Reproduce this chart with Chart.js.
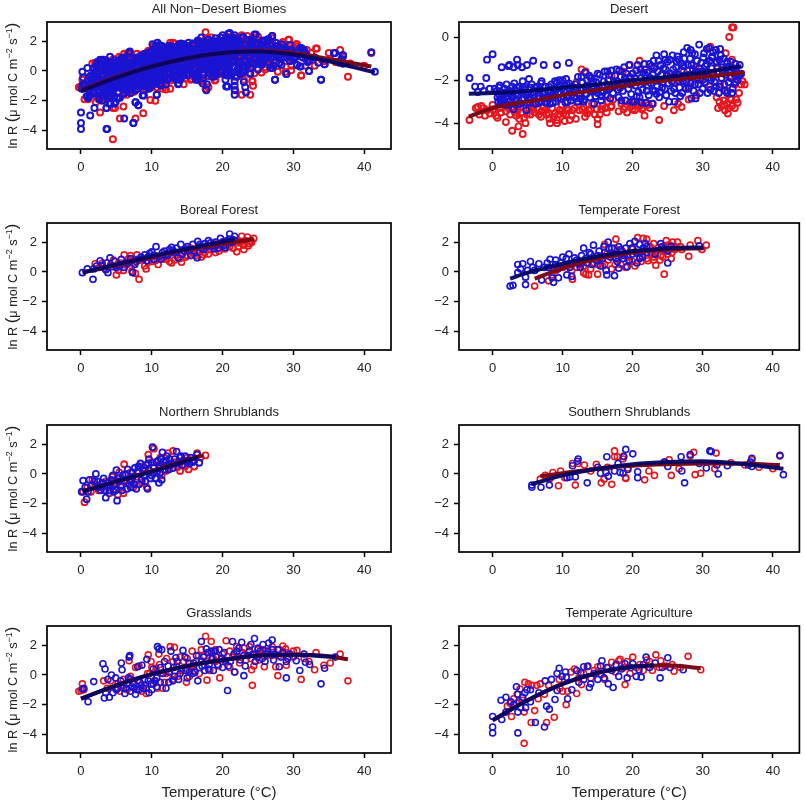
<!DOCTYPE html>
<html>
<head>
<meta charset="utf-8">
<script src="https://cdn.jsdelivr.net/npm/chart.js@4"></script>
<style>
  html, body { margin: 0; padding: 0; background: #fff; overflow: hidden; }
  canvas { position: absolute; }
</style>
</head>
<body>
<script>
const xTickValues = [0, 10, 20, 30, 40];
const yTickValues = [-4, -2, 0, 2];
const desertTickValues = [-4, -2, 0];

// puntos: [temperatura, ln R]
const borealRed = [[2,.55],[2.6,.3],[3,.6],[3.5,.2],[4.2,.5],[4.6,.8],[5,-.2],[5.3,.1],[5.6,.6],[6,.1],[6.1,1.15],[6.5,.5],[6.7,.85],[7,1.1],[7.2,.05],[7.5,.6],[7.7,-.1],[7.9,1.15],[8.2,-.5],[8.4,.8],[9,.4],[9.2,.2],[9.5,1],[10,.7],[10.5,1.1],[10.9,.5],[11.5,.9],[12,1.2],[12.5,.7],[12.8,.6],[13,1.3],[13.5,1.1],[14,.9],[14.2,.65],[14.6,1.4],[15,1.1],[15.5,1.6],[16,1.2],[16.5,1.45],[17,1],[17.5,1.3],[17.8,1.7],[18.2,1.5],[18.7,1.9],[19,1.3],[19.3,1.6],[19.8,1.8],[20.3,1.55],[20.8,2],[21,1.7],[21.5,1.6],[22,1.35],[22.4,1.95],[22.7,2.4],[23,1.5],[23.2,2.1],[23.5,2.35],[23.8,1.9],[24,2.1],[24.4,2.25],
  [13.2,.8],[14.8,1],[15.8,1.45],[16.3,1.1],[16.8,1.7],[17.3,1.15],[18,1.2],[18.4,1.7],[19.5,1.4],[20,2],[20.5,1.8],[21.2,1.95],[21.7,2.1],[22.2,1.7],[22.6,2.05],[23,1.8],[23.6,1.75],[24.1,2],[12,.85],[10.5,.75],[11,.95],[9.5,.65]];
const borealBlue = [[.2,-.05],[.9,.2],[1.7,-.5],[1.8,.2],[2.2,.4],[2.7,.75],[3,.45],[3.5,.15],[3.6,.6],[3.8,-.05],[4.1,.95],[4.4,.35],[4.8,.7],[5.4,.4],[5.7,.85],[6.1,.3],[6.6,.6],[7,.9],[7.3,-.05],[7.6,.5],[8,.85],[8.5,1],[9,1.15],[9.3,.75],[9.7,1.25],[10,1.35],[10.3,.85],[10.6,1.7],[11,1.05],[11.5,1.3],[12,1.1],[12.5,1.5],[12.8,1.65],[13.3,1.3],[13.7,.95],[14.1,1.85],[14.5,1.4],[15,1.7],[15.5,1.1],[15.8,1.85],[16.4,.95],[16.5,2.05],[17,1.6],[17.5,1.9],[18,2.1],[18.5,1.75],[19,2],[19.4,1.6],[19.7,2.25],[20.2,1.8],[20.6,2.1],[21,2.55],[21.3,2],[21.7,2.4],
  [5,.3],[6.3,.6],[7.8,.7],[8.8,.9],[9.5,1],[10.2,1.1],[11.3,.85],[11.8,1.4],[12.3,1.15],[13,1.45],[13.5,1.6],[14.3,1.2],[14.8,1.55],[15.3,1.5],[16,1.4],[16.8,1.85],[17.3,1.5],[17.8,1.75],[18.3,1.95],[18.8,1.55],[19.2,1.85],[20,2],[20.4,1.65],[21,2.2],[21.5,2.15]];
const forestRed = [[6,-.95],[8,-.6],[8.5,-.2],[9,.1],[10,.3],[11.4,-.5],[11.3,.1],[12,.3],[12.5,.5],[13,-.05],[13.3,-.15],[13.7,-.2],[14,.2],[14.5,.6],[15,-.15],[15.3,.9],[15.7,.4],[16,1.85],[16.5,.8],[17,1.2],[17.5,.5],[17.6,2.2],[18,.9],[18.5,1.4],[19,.3],[19.3,1],[19.8,1.6],[20.3,.4],[20.7,2.3],[21,1],[21.2,.7],[21.5,2.25],[22,2.2],[22.2,.75],[22.5,1.7],[22.8,1.2],[23,1.9],[23.3,.45],[23.5,1.4],[23.9,.8],[24.2,1.65],[24.5,-.15],[24.8,2.1],[25,1.2],[25.3,1.8],[25.5,.9],[25.7,2],[26,1.5],[26.4,2],[27,1.5],[28,1.05],[28.2,1.8],[29.3,2.1],[29.9,1.5],[30.5,1.8],[17,.2],[20,.7],[23,1],[24,1.1],[25,1.45],
  [13,.4],[15,.5],[16,.5],[16.3,1.2],[17.4,1.6],[18.3,.5],[18.8,1.2],[19.5,.7],[21.5,1.4],[22,.9],[22.6,1.3],[23,.8],[24.3,1],[24.6,1.4],[25,1.8],[25.6,1.3],[26,1.7],[26.8,1.7]];
const forestBlue = [[2.5,-.95],[2.9,-.9],[3.6,.5],[3.6,-.05],[4,.2],[4.3,.55],[4.7,-.35],[4.7,-.85],[5,.1],[5.4,.7],[5.7,.3],[6,.1],[6.6,.55],[7,-.55],[7.4,.3],[7.8,.6],[8.2,.85],[8.5,-.4],[8.7,-.7],[9,.8],[9.3,.2],[9.4,-.4],[10,1],[10.3,.5],[10.6,-.2],[10.9,1.2],[11.3,-.3],[11.5,.6],[12,.8],[12.5,.3],[13,1.6],[13.3,.9],[13.8,1.3],[14.2,.5],[14.4,1.8],[15,1.1],[15.4,.4],[15.9,1.7],[16.2,.1],[16.3,-.2],[16.5,2],[16.8,1],[17,1.6],[17.4,-.25],[17.8,.7],[18,.25],[18.3,1.5],[18.8,1.1],[19.2,.35],[19.6,1.9],[20,1.2],[20.3,2.05],[20.6,.6],[21,.9],[21.5,1.6],[21.8,1.9],[22,1.3],[23.2,1.2],[24,1.9],[24.5,1.55],[25,.6],[25.5,1.7],[29.5,1.75],
  [8,.3],[9,.5],[9.8,.6],[10.5,.9],[11,.3],[11.7,.95],[12.3,.55],[12.7,1.1],[13.5,.6],[14,1.2],[14.8,.8],[15.2,1.4],[15.7,.9],[16,1.3],[16.6,1.6],[17.3,1.2],[17.6,.9],[18,1.7],[18.6,.9],[19,1.6],[19.5,.8],[20,1.6],[20.5,1.3],[21,1.85],[21.4,1],[22,1.7],[24.2,1.7],[25,1.4]];
const northRed = [[.3,-1.2],[.5,-1.9],[.9,-.9],[1.4,-1.2],[1.6,-.4],[2,-.7],[2.5,-1.1],[3,-.9],[3.5,-.5],[4,-1.3],[4.4,-.2],[4.8,-1],[5,-.6],[5.2,-1.4],[5.4,.1],[5.7,-.9],[6,-1.3],[6.1,.65],[6.4,-.4],[6.8,-.7],[7,.1],[7.4,-.9],[7.8,-.2],[8.3,.5],[8.6,-.6],[9,.4],[9.3,-.9],[9.5,1.3],[9.7,.2],[10,.8],[10.3,1.7],[10.6,-.3],[11,.6],[11.2,1.1],[11.4,-.1],[11.8,.9],[12,.2],[12.3,1.4],[12.7,.6],[13,1.55],[13.3,.8],[13.6,.45],[14,.2],[14.4,.9],[14.7,.5],[15,1.1],[15.2,.3],[15.7,.8],[16,.5],[16.4,1.4],[16.9,1.1],[17.6,1.25]];
const northBlue = [[.1,-1.2],[.3,-.45],[.8,-1.7],[1.2,-.4],[1.5,-.8],[2.1,0],[2.3,-.5],[2.8,-1.1],[3.2,-.3],[3.5,-1.6],[3.7,-.8],[4,-1.1],[4.3,-.4],[4.7,-.7],[5,.25],[5.1,-1.8],[5.4,-.3],[5.7,-.8],[6.2,-.5],[6.6,.3],[7,-.9],[7.3,-.2],[7.6,.4],[7.8,-1],[8,.1],[8.4,.7],[8.6,-.4],[9,.2],[9.4,-1],[9.6,1],[9.8,-.3],[10.1,1.8],[10.3,.4],[10.6,.8],[11,-.6],[11.3,1],[11.4,-.4],[11.5,1.45],[11.8,.3],[12.2,.6],[12.5,1],[13,.4],[13.5,1.5],[13.9,.8],[14.3,.6],[14.7,1.2],[15,.8],[15.5,1.1],[16,.9],[16.4,1.3],[16.7,.75],[2.6,-.8],[3.9,-.6],[4.6,-1.2],[5.9,-.1],[6.5,-1],[7.1,-.5],[8.2,-.7],[8.9,-.1],[9.2,.6],[10,-.1],[10.7,.1],[11.1,.4],[12,.9],[12.8,.7],[14,1.1],
  [.6,-.9],[1,-1.2],[1.9,-.5],[2.4,-.9],[3,-.6],[3.4,-1.1],[4.1,-.8],[4.5,-.1],[4.9,-1.1],[5.3,-.5],[5.8,-1.1],[6.3,0],[6.9,-.4],[7.3,.1],[7.5,-.7],[8.1,.5],[8.7,.3],[9.1,-.5],[9.5,.7],[10.2,.1],[10.5,-.3],[10.9,.9],[11.2,.1],[11.7,.8],[12.1,1.2],[12.4,.3],[13.2,1],[13.7,.7],[14.1,1.2],[14.9,.9],[15.3,.7],[15.8,.8]];
const southRed = [[6.8,-.35],[7.5,-.1],[8.2,-.3],[8.6,.1],[9.4,-.8],[9.7,.2],[10.3,-.25],[11.4,.7],[11.8,-.75],[12.2,.7],[13.1,.6],[14,.2],[14.8,.65],[15.5,-.6],[15.9,-.35],[16.4,.45],[17,-.7],[17.4,1.55],[17.4,1.15],[17.8,1.15],[18.6,1],[18.7,1.2],[19,-.25],[19,-.3],[19.3,.4],[21.7,-.4],[22.3,.2],[23.1,-.1],[24.6,.8],[25.2,.95],[25.5,-.1],[26.6,.35],[28.2,1.2],[28.7,1.45],[28.9,-.05],[29.7,.05],[31.7,.35],[31.9,1.4],[34,.75],[36,.6],[37,.95],[38,.45],[40,.35],[41,1.2]];
const southBlue = [[5.6,-.75],[5.6,-.9],[6.9,-.9],[8.1,-.75],[10.6,-.25],[11,-.2],[11.4,.55],[11.8,-.2],[12.1,.85],[12.2,1],[13.5,-.6],[15,.45],[15.4,.05],[16.2,.1],[16.3,1.15],[16.5,-.15],[17.4,.2],[17.9,.7],[18.2,.1],[18.6,.05],[18.7,1.15],[19,1.65],[19.3,.3],[20,1.35],[20.7,.15],[20.7,-.25],[24.5,.8],[25,.5],[26.9,1.15],[27,.2],[27.4,-.6],[28.2,1.3],[29.5,.7],[30.5,.4],[31,1.55],[31.2,1.5],[32,.6],[32.2,0],[33.5,.55],[36.5,.6],[36.8,.8],[37,.5],[37,1.05],[41,1.25],[41.5,-.05]];
const grassRed = [[-.3,-1.1],[0,-1.05],[.2,-.6],[.4,-1],[3.2,-.4],[3.7,-.9],[4.2,-.4],[4.9,-.9],[5.2,-.6],[5.5,-1.1],[6,-.7],[6.5,-1],[6.8,.95],[7.3,-.5],[7.7,.5],[7.9,-.8],[8.2,.6],[8.6,-1.1],[9,-.7],[9.2,-1.25],[9.4,.1],[9.5,1.35],[9.9,.9],[10,.5],[10.3,-.4],[10.6,.45],[10.8,-.9],[11,1.4],[11.4,.1],[11.5,-.9],[11.8,-.5],[12.1,1.1],[12.4,.2],[12.6,1.9],[12.9,-.3],[13.2,1.85],[13.5,.6],[13.7,-.1],[14,1.2],[14.5,.9],[14.9,-.5],[15,.4],[15.3,-.1],[15.7,1.6],[16,.3],[16.3,.9],[16.7,.1],[17,1.7],[17.6,2.6],[17.7,.9],[17.8,-.35],[18.2,.3],[18.4,2.25],[18.7,1.1],[19,1.7],[19.4,.6],[19.6,-.2],[20,1.4],[20.4,.9],[20.5,2.3],[21,.5],[21.4,1.2],[21.7,.2],[22,1.9],[22.4,.8],[22.8,1.5],[23.3,1],[23.8,1.9],[24.1,.35],[24.2,-.7],[24.4,.6],[24.8,1.4],[25.2,1],[25.7,1.7],[25.9,.55],[26.3,1.3],[27,1.9],[27.5,.55],[27.8,-.05],[28,1.3],[28.5,1.95],[28.9,1.75],[29,.65],[29.4,1.2],[30,1.6],[30.5,1.65],[31.1,-.3],[31.5,1.1],[32.2,.9],[33,.35],[33.2,1.5],[34.3,.65],[35.2,.8],[36.6,1.4],[37.7,-.4],
  [6,-.3],[7,-.1],[8,-.4],[9.7,.1],[11.1,.7],[12,.1],[13,.9],[14.2,.3],[15,1.1],[15.9,.6],[16.6,1.3],[17.4,1.3],[18.4,1.5],[19,.9],[19.8,1.1],[21,1.6],[22,1.2],[23,1.8],[24,1.1],[25,1.7],[26,1.6],[27,1.3],[28,1.7],[29,1.5],[30,1.2]];
const grassBlue = [[.2,-.95],[.4,-.9],[1,-1.8],[1.8,-.45],[3.1,.75],[3.3,-1.55],[3.4,.4],[3.5,-1.2],[3.8,-.3],[4,-1.5],[4.3,0],[4.5,-1.2],[4.9,-.2],[5.2,-.9],[5.7,.8],[5.8,.35],[6.2,-1.25],[6.7,-.2],[6.9,1.3],[6.8,1.2],[7.2,-.8],[7.4,-.6],[7.7,-1.3],[8,.55],[8.2,-1],[8.6,.65],[9,-.3],[9.3,1.05],[9.6,-1.2],[10,-1],[10.2,.4],[10.5,-.4],[10.8,1.9],[11,1.75],[11.4,1.7],[11.6,.1],[12,-.9],[12.3,.6],[12.7,1.6],[13,-.4],[13.4,1.15],[13.8,-.3],[14.4,1.65],[14.8,.3],[15.3,.8],[15.8,.1],[16.5,-.4],[16.7,.5],[17,2.25],[17.3,1.2],[17.7,1.75],[18.1,.7],[18.4,1.6],[18.7,.3],[19.1,1.2],[19.5,1.7],[20,.5],[20.3,1],[20.7,-1.05],[21.1,.9],[21.4,2.25],[21.7,.2],[22,1.6],[22.5,1],[22.7,2.2],[23,-.05],[23.2,.6],[23.6,1.3],[24,2.05],[24.5,2.45],[24.9,1.2],[25.3,1.6],[25.7,2.05],[26,.9],[26.5,2.15],[27,2.35],[27.3,1.4],[27.8,1.7],[28,.55],[28.5,1.5],[29,.9],[29,-.2],[29.5,1.4],[30.4,.95],[30.9,.3],[31.5,1.4],[31.7,.85],[32.3,.7],[33.9,-.6],[34.4,.45],[35.9,1.2],[6.4,-.9],[7,-1.1],[7.9,-1],[8.5,-.7],[9.2,-.9],[9.9,-.6],[10.7,-.8],[11.2,-.5],[12.4,-.5],[13.2,-.1],[14,.1],[15,-.2],[16.1,.2],[17.1,.6],[17.9,1.5],[18.9,1.6],[19.9,1.1],[24.3,1.4],[26.4,1.6],[27,1.7],
  [5,-1],[5.6,-.4],[6,-.9],[6.5,-.6],[7,-.3],[7.5,-.9],[8.3,-.5],[8.8,-.9],[9.5,-.4],[10.2,-.6],[10.7,-.2],[11.2,.5],[11.8,.9],[12.5,.2],[13.1,.5],[13.6,.9],[14.2,.4],[14.7,1.2],[15.3,.2],[15.9,.8],[16.3,1.3],[17,.9],[17.5,.3],[18,.4],[18.5,1.1],[19.3,.7],[20.2,1.5],[20.8,.6],[21.6,1.4],[22.3,1.8],[23,1.3],[23.8,1.6],[24.6,.9],[25,1.8],[25.6,1.1],[26.2,1.4],[27.2,1],[28.2,1.2],[29.2,1.1]];
const agriRed = [[2.7,-2.8],[2.1,-2.1],[2.5,-1.9],[3,-1.6],[3.4,-1.9],[3.5,-1.3],[3.9,-.95],[4.3,-1.7],[4.5,-2.5],[4.5,-4.6],[4.6,-.5],[5.1,-.6],[5.5,-3.2],[5.6,-.7],[6,-2.4],[6.3,-.7],[6.5,-1.6],[6.8,-.6],[7.4,-1.3],[7.7,-3.2],[8,-.7],[8.8,-2.85],[9.5,-.3],[9.6,-.9],[10,-1.1],[10.5,-2],[10.7,-1.1],[11.2,.2],[11.7,.4],[12,-1.25],[12.3,-.2],[12.7,-.65],[13,.1],[13.5,.55],[14,-.2],[14.5,.3],[15,.55],[15.5,.05],[16,-.3],[16.5,.5],[17,.85],[17.5,.2],[18,.95],[18.2,1.05],[18.7,.5],[18.9,-.65],[19.2,.9],[19.6,.1],[20,1.2],[20.5,.5],[21,.7],[21.5,.3],[22,1],[22.4,.9],[22.8,.3],[23.3,1.35],[23.8,.5],[24,.95],[24.7,.6],[25.6,.7],[25.9,.25],[26.8,.5],[27.9,1.25],[29.7,.35]];
const agriBlue = [[0,-2.8],[0,-3.5],[0,-3.9],[1.2,-1.7],[1.3,-3],[1.9,-1.5],[1.9,-2.5],[2.6,-1.8],[3,-2],[3.4,-.8],[3.6,-1.3],[3.6,-2.5],[3.6,-3.9],[3.8,-1.8],[4,-2.2],[4.3,-1.5],[4.6,-1.2],[4.7,-2.2],[4.9,-1],[5.4,-1.8],[5.4,-1],[6.1,-3.2],[6.6,-1.2],[7.4,-3.5],[7.5,-.4],[7.7,-2.1],[8.1,-2.3],[8.4,-.3],[8.9,-1.65],[9.2,-1.05],[9.2,.1],[9.5,.45],[9.9,-.1],[10.4,.2],[10.5,-.15],[10.7,-1.6],[11.3,-1],[12,.3],[12.3,-.5],[12.6,.15],[13,.55],[13,-.3],[13.6,.6],[13.8,-.85],[14,-.6],[14.5,.1],[15,-.3],[15.4,.6],[15.6,.95],[15.9,-.2],[16.3,.5],[16.5,-.6],[17,.3],[17.2,-.85],[17.6,.7],[18,-.1],[18.4,.4],[18.9,.75],[19.2,-.2],[19.7,.5],[20,.75],[20.5,-.1],[20.9,.35],[21.2,-.15],[21.5,.7],[21.9,1.2],[22.4,.5],[23.2,.8],[23.9,-.2],[24.2,.5],[25,1.15],[25.3,.5],[27.2,.35]];
const desertRed = [[-3.3,-3.85],[-2.4,-3.3],[-2.1,-3.25],[-1.9,-3.6],[-1.6,-3.2],[-1.3,-3.3],[-1.1,-3.65],[-.8,-3.4],[-.4,-3.55],[0,-3.15],[.3,-3.5],[.7,-3.75],[1,-3.3],[1.4,-3.1],[1.9,-3.95],[1.9,-3.45],[2.2,-3.3],[2.5,-3.6],[2.8,-4.35],[3,-3.1],[3.2,-3.5],[3.6,-3.4],[3.7,-4.15],[3.8,-3.8],[4.2,-3.5],[4.3,-4.5],[4.7,-4],[4.9,-3.6],[5.2,-3.3],[5.6,-3.25],[6,-3.5],[6.3,-3.1],[6.6,-3.6],[7,-3.45],[7.3,-3.25],[7.7,-3.6],[8.1,-3.8],[8.2,-4],[8.5,-3.3],[8.9,-3.55],[9.2,-3.85],[9.2,-4],[9.6,-3.4],[9.9,-3.15],[10.1,-3.55],[10.3,-3.9],[10.6,-3.3],[11,-3.85],[11.3,-3.65],[11.7,-3.3],[11.9,-3.8],[12.2,-3],[12.7,-1.5],[12.8,-3.35],[13.3,-1.6],[13.2,-3.7],[13.7,-3.4],[14.2,-3.1],[14.6,-3.6],[15,-4.05],[15,-3.8],[15.3,-3.6],[15.7,-3.2],[16.1,-3.3],[16.5,-3],[16.9,-3.25],[17.2,-2.9],[18,-3.45],[18.4,-3.1],[18.9,-3.25],[19.2,-3.5],[19.6,-3.05],[20,-3.35],[20.5,-3.15],[20.9,-3],[21.3,-3.35],[21.7,-3.65],[22,-3.05],[22.5,-3.3],[22.9,-3.1],[23.8,-3.85],[25.9,-3.4],[27,-3.25],[28,-2.9],[29.1,-2.7],[32,-2.8],[32.4,-3],[32.7,-3.2],[33,-2.95],[33.2,-3.4],[33.5,-3.1],[33.6,-3.55],[33.9,-2.85],[34.2,-3.2],[34.6,-3.3],[34.8,-2.9],[35,-3.05],[35.2,-2.6],[35.5,-2.2],[36,-2.2],[33.8,0],[34.2,.45],[34.4,.45],[31.1,-.45],[33.3,-.75],[34.2,-1.05],[21,-1.1],[19.6,-1.3],[12,-2.1],[14,-1.9],[17,-1.8],[18.6,-1.6],[19,-2.1],[20,-1.7],[21.7,-1.5],[23,-1.4],[24,-2],[25,-1.8],[26,-2.1],[26.8,-1.95],[27.3,-1.6],[28,-2.3],[28.6,-1.85],[29,-1.4],[29.7,-2],[30.5,-1.6],[31,-2.3],[31.6,-1.8],[32,-1.2],[32.5,-2.2],[33,-1.5],[33.5,-2.5],[34,-1.8],[34.6,-2.2],[35,-1.7],[35.7,-2.05],
  [.1,-3.35],[.5,-3.65],[1.2,-3.5],[2.7,-3.25],[3.4,-3.65],[4,-3.25],[4.5,-3.75],[5.4,-3.6],[5.8,-3.35],[6.4,-3.3],[6.9,-3.7],[7.5,-3.4],[8,-3.55],[8.7,-3.7],[9.4,-3.6],[9.9,-3.45],[10.5,-3.6],[10.8,-3.4],[11.4,-3.4],[12.4,-3.4],[13,-3.25],[13.5,-3.55],[14,-3.35],[14.9,-3.35],[15.5,-3.35],[16.3,-3.5],[17,-3.2],[18.7,-3.35],[19.9,-3.2],[20.3,-3.4],[21,-3.2],[21.5,-3.3],[22.3,-3.15],[24.5,-3.2],[26.5,-3.1],[32.2,-3.3],[33.1,-3.15],[33.7,-3.3],[34.1,-2.9]];
const desertBlue = [[-3.3,-1.9],[-2.5,-2.3],[-2.1,-2.55],[-1.7,-2.3],[-1.3,-2.5],[-.8,-1.05],[-.9,-1.9],[-.4,-2.4],[0,-.8],[.3,-2.4],[.7,-2.8],[1,-2.25],[1.3,-1.4],[1.5,-2.6],[2,-2.2],[2.3,-1.35],[2.4,-1.3],[3,-1.4],[3,-3.35],[3.5,-1.05],[3.6,-1.3],[4.2,-1.4],[4.3,-2.05],[4.8,-3.4],[4.9,-1.3],[5.2,-1.95],[5.8,-1.1],[7,-2.05],[7.3,-1.3],[9.2,-1.3],[10.9,-1.2],
  [.6,-2.5],[.8,-3],[1,-2.7],[1.2,-3.1],[1.5,-2.9],[1.7,-2.4],[1.9,-3.15],[2.1,-2.75],[2.4,-2.5],[2.5,-3],[2.8,-2.3],[2.9,-2.7],[3.2,-2.45],[3.4,-3],[3.6,-2.7],[3.8,-2.3],[4,-3.1],[4.3,-2.6],[4.5,-2.85],[4.7,-2.3],[4.9,-3.05],[5.1,-2.6],[5.4,-2.35],[5.5,-2.9],[5.8,-2.55],[6.1,-3.1],[6.3,-2.3],[6.5,-2.75],[6.8,-2.45],[7,-3],[7.2,-2.6],[7.5,-2.3],[7.7,-2.85],[7.9,-2.5],[8.2,-3.1],[8.4,-2.2],[8.6,-2.7],[8.8,-2.4],[9,-3],[9.2,-2.1],[9.4,-2.6],[9.6,-2.3],[9.8,-2.85],[10,-2],[10.2,-2.5],[10.4,-3.05],[10.6,-2.2],[10.8,-2.7],[11,-2.4],[11.2,-2.95],[11.5,-2.55],[11.8,-2.2],[12,-2.85],[12.2,-1.85],[12.5,-2.45],[12.8,-2.1],[13,-3],[13.2,-1.65],[13.4,-2.65],[13.6,-2.25],[13.9,-2.8],[14.1,-1.9],[14.3,-2.4],[14.5,-3.1],[14.8,-2.1],[15,-2.6],[15.3,-1.75],[15.5,-2.95],[15.7,-2.3],[16,-1.6],[16.2,-2.7],[16.5,-2],[16.7,-2.4],[17,-1.55],[17.3,-2.1],[17.7,-1.5],[18,-2.8],[18.3,-1.85],[18.6,-2.5],[18.8,-1.4],[19,-2.95],[19.2,-2.05],[19.5,-1.3],[19.8,-2.65],[20,-1.7],[20.2,-3],[20.4,-2.25],[20.7,-1.3],[21,-2.8],[21.2,-1.9],[21.4,-2.45],[21.7,-1.25],[21.9,-3.05],[22.1,-1.65],[22.3,-2.7],[22.6,-2.15],[22.8,-3.1],[23,-1.1],[23.2,-2.5],[23.4,-.85],[23.6,-1.6],[23.8,-2.8],[24,-1.3],[24.3,-2.1],[24.5,-.8],[24.8,-2.7],[25,-1.15],[25.2,-3],[25.4,-1.7],[25.7,-.85],[25.9,-2.4],[26,-3],[26.2,-1.4],[26.4,-.9],[26.6,-2.05],[26.9,-1.2],[27.1,-2.6],[27.3,-.7],[27.5,-1.8],[27.8,-.5],[28,-2.4],[28.2,-1],[28.4,-2.85],[28.6,-1.5],[28.9,-.8],[29,-2.85],[29.3,-1.9],[29.5,-.35],[29.8,-1.2],[30,-2.4],[30.2,-.75],[30.5,-1.6],[30.7,-2.6],[30.9,-.5],[31.2,-2],[31.4,-.9],[31.6,-2.5],[31.9,-.6],[32.1,-1.4],[32.3,-2.6],[32.5,-.55],[32.7,-1.9],[33,-1],[33.2,-2.5],[33.4,-1.4],[33.7,-2.1],[34,-1.15],[34.2,-2.6],[34.5,-1.7],[34.7,-1.25],[35,-2],[35.3,-1.3],[35.5,-1.7],
  [.9,-2.35],[1.3,-2.8],[1.6,-3.05],[2,-2.55],[2.3,-3.15],[2.7,-2.8],[3.1,-2.15],[3.3,-2.65],[3.7,-3.1],[4,-2.5],[4.2,-2.9],[4.6,-2.45],[4.8,-2.7],[5.3,-3.05],[5.6,-2.2],[5.9,-2.8],[6.2,-2.5],[6.6,-3.05],[6.9,-2.15],[7.3,-2.8],[7.6,-3.05],[8,-2.3],[8.3,-2.6],[8.6,-3.05],[8.9,-2.05],[9.3,-2.85],[9.5,-2],[9.9,-2.4],[10.1,-2.75],[10.5,-1.95],[10.7,-3],[10.9,-2.15],[11.3,-2.3],[11.6,-2.8],[11.9,-2.45],[12.1,-3],[12.4,-2.65],[12.7,-1.85],[12.9,-2.45],[13.1,-2.9],[13.5,-2],[13.8,-1.8],[14,-2.5],[14.4,-2.05],[14.7,-2.75],[15,-1.7],[15.2,-2.35],[15.6,-2.75],[15.9,-2.05],[16.3,-2.45],[16.4,-1.6],[16.8,-2.85],[17.1,-2.25],[17.5,-1.8],[17.9,-2.45],[18.1,-1.55],[18.4,-2.95],[18.7,-2.15],[19.1,-1.7],[19.4,-2.4],[19.6,-1.85],[19.9,-3],[20.1,-2.1],[20.5,-1.55],[20.8,-2.55],[21.1,-1.5],[21.3,-3.05],[21.6,-2.1],[21.8,-1.75],[22,-2.5],[22.4,-1.25],[22.5,-1.9],[22.9,-2.5],[23.1,-1.45],[23.3,-1.95],[23.5,-2.3],[23.7,-1.1],[23.9,-2.55],[24.1,-1.75],[24.4,-1.45],[24.6,-2.4],[24.9,-1.8],[25.1,-2.15],[25.3,-1.05],[25.5,-2.5],[25.8,-1.5],[26.1,-2.6],[26.3,-1.15],[26.5,-1.75],[26.7,-2.35],[27,-1.55],[27.2,-2.05],[27.4,-1],[27.6,-2.4],[27.9,-1.3],[28.1,-1.75],[28.3,-2.15],[28.5,-.75],[28.7,-2.5],[29,-1.6],[29.2,-1.1],[29.4,-2.2],[29.6,-2.6],[29.9,-1.6],[30.1,-.95],[30.3,-2.1],[30.6,-1.25],[30.8,-1.9],[31.1,-2.45],[31.3,-1.45],[31.5,-.7],[31.7,-2.1],[32,-1.15],[32.2,-1.7],[32.4,-2.3],[32.6,-.85],[32.8,-1.4],[33.1,-2.2],[33.3,-1.75],[33.5,-2.6],[33.8,-1.4],[34,-1.9],[34.3,-2.4],[34.4,-1.45],[34.7,-2.1],[35.2,-1.8],[28.3,-.6],[30.6,-.55],[31.3,-.95],[26.6,-1.05],[24.7,-1.05],[22.7,-1.35],
  [1.1,-2.95],[1.8,-2.65],[2.6,-2.6],[3.5,-2.35],[4.4,-2.35],[5.2,-2.8],[6,-2.35],[6.7,-2.6],[7.4,-2.55],[8.1,-2.75],[8.9,-2.65],[9.7,-2.6],[10.3,-2.25],[11.1,-2.6],[11.7,-2.4],[12.6,-2.85],[13.3,-2.3],[14.2,-2.15],[14.9,-2.45],[15.8,-2.55],[16.6,-1.75],[17.2,-2.6],[17.8,-2.05],[18.2,-2.35],[18.9,-1.9],[19.7,-2.2],[20.3,-1.9],[20.6,-2.75],[21.5,-1.65],[22.2,-2.25],[22.9,-1.75],[23.4,-2.65],[24.2,-2.35],[24.7,-1.5],[25.6,-2.05],[26,-1.8],[26.8,-2.75],[27.3,-1.35],[27.7,-2.1],[28.4,-1.3],[28.9,-2.2],[29.5,-1.45],[30,-2],[30.4,-1.35],[31,-1.1],[31.5,-1.7],[31.9,-2.3],[32.4,-1.05],[32.9,-1.65],[33.5,-1.15],[34.1,-1.6],[34.8,-1.6]];

// puntos que solo aparecen en el panel de todos los biomas
const allExtraRed = [[1,-1.9],[1.6,.5],[2.2,-1.7],[2.8,-1.9],[3.2,.75],[4,-1.8],[4.8,-2.5],[5.4,.95],[6,-1.6],[6.6,1.2],[7.5,-1.4],[8.5,1.1],[9.8,-1.95],[10.4,1.7],[11.5,-1.2],[12.6,-1.2],[13,1.9],[14.5,-.9],[15.7,-.55],[16.8,-.65],[17.6,-1.2],[18,-1.1],[19,-.6],[20.5,-.1],[21.8,-1.3],[22.7,-1.6],[23,-.6],[23.9,-1.6],[24.3,-1],[24.2,-.7],[25,2.3],[26,.1],[27,2.2],[29.4,2.1],[29.6,1],[30.4,1.8],[31.1,-.3],[32.5,1.2],[33.3,1.5],[35,1.2],[36,.6],[38,.5]];
const allExtraBlue = [[1,-1.8],[1.3,-1.6],[1.5,-.6],[1.9,-1.4],[2.2,-.8],[2.3,.2],[2.6,-1.9],[2.9,-.3],[3.3,-1.1],[3.6,-2.5],[3.7,-3.9],[3.7,-.7],[4,-1.7],[4.1,.3],[4.2,-2.2],[4.5,-1.3],[4.6,-.5],[4.9,-2.1],[5.1,.6],[5.3,-1.5],[5.5,-.1],[5.8,-1.2],[6,.9],[6.3,-.6],[6.6,-1.4],[6.9,.3],[7.1,-1.1],[7.4,-3.5],[7.5,-.3],[7.7,-2.1],[7.9,.9],[8.1,-2.3],[8.1,-.7],[8.4,.2],[8.7,-1.65],[8.8,-1],[9,1],[9.4,-.2],[9.6,-.7],[10,1.3],[10.2,-.4],[10.5,.7],[10.7,-1.6],[10.9,-.2],[11.3,1.6],[11.6,-.6],[11.9,1],[12.1,.2],[12.4,1.7],[12.6,-.5],[13,.6],[13.3,-.4],[13.7,-.9],[13.9,1.8],[14.2,.2],[14.5,-.3],[14.8,1.2],[15.2,1.9],[15.5,.4],[15.9,-.2],[16.2,-.6],[16.5,1.5],[16.9,.9],[17.2,1.9],[17.4,.2],[17.7,-1.3],[17.8,-.9],[18,2.1],[18.3,1],[18.5,-.4],[18.8,.1],[19,2.2],[19.3,1.4],[19.5,.5],[19.8,-.1],[20,2.4],[20.4,-.6],[20.5,-1.05],[20.8,2.5],[21,.4],[21.3,1.4],[21.7,-.7],[21.7,-1],[21.7,-1.3],[21.7,-1.6],[21.9,2],[22.1,.1],[22.3,1],[22.5,-.2],[22.9,2.3],[23,-.75],[23.2,-1.1],[23.3,-1.45],[23.5,.4],[23.9,-.15],[24.2,1.9],[24.5,.9],[24.7,2.45],[25,.1],[25.4,1.8],[25.7,.7],[26,2],[26.5,1.1],[26.8,.2],[27,2.35],[27.4,-.6],[27.6,1],[28,.5],[28.4,1.8],[28.7,.9],[29,-.2],[29.5,.65],[30,1.2],[30.5,.4],[31,.3],[31,1.55],[31.4,1.4],[32,.7],[32.2,0],[33,.9],[33.9,-.6],[34.4,.45],[35.7,1.2],[36.5,.55],[37,1.05],[37,.5],
  [1.1,-.9],[1.4,-.3],[1.7,-1.1],[1.8,.1],[2,-.5],[2.3,-1.3],[2.5,-.2],[2.7,.5],[2.8,-1],[3,-1.6],[3.1,.2],[3.4,-.6],[3.6,.7],[3.9,-1.2],[4,-.2],[4.3,.6],[4.4,-.8],[4.7,-1.7],[4.8,.1],[5,-1],[5.2,-.3],[5.5,-1.8],[5.6,.5],[5.9,-.7],[6.1,-1.5],[6.2,.2],[6.5,-1],[6.7,.8],[6.8,-.2],[7,-1.5],[7.3,.5],[7.4,-.9],[7.7,.1],[7.9,-1.2],[8.2,.9],[8.3,-.5],[8.6,.4],[8.8,-1.3],[9.1,-.3],[9.2,1.1],[9.5,.3],[9.7,-1.1],[9.9,.8],[10.1,-.9],[10.3,.2],[10.6,1.2],[10.7,-.5],[11,.5],[11.1,-.9],[11.4,1],[11.7,-.1],[11.8,.4],[12,1.5],[12.2,-.6],[12.5,.7],[12.7,1.1],[12.9,-.2],[13.1,1.6],[13.4,.3],[13.6,.9],[13.8,-.5],[14,1.3],[14.3,.5],[14.4,1.8],[14.6,-.1],[14.9,.8],[15.1,1.5],[15.3,.1],[15.6,1.1],[15.8,1.8],[16,.5],[16.3,1.2],[16.4,-.3],[16.7,2],[16.9,.3],[17.1,1.4],[17.3,-.5],[17.5,.9],[17.8,1.6],[18.1,.3],[18.4,1.9],[18.7,.8],[18.9,-.2],[19.1,1.1],[19.4,2],[19.6,.4],[19.9,1.6],[20.1,.9],[20.3,-.2],[20.6,1.9],[20.9,1],[21.1,-.3],[21.4,2.2],[21.6,.7],[21.8,1.6],[22,-.4],[22.2,2.1],[22.4,.5],[22.6,1.3],[22.8,-.1],[23.1,1.8],[23.3,.7],[23.6,2.1],[23.7,1],[24,.2],[24.4,1.5],[24.6,.5],[24.8,1.9],[25.2,1.1],[25.5,.4],[25.8,1.6],[26.1,.9],[26.3,2.1],[26.6,.5],[27.2,1.5],[27.5,1.9],[27.9,1.1],[28.2,.9],[28.6,1.5],[29.2,1.1],[29.8,1.4],[30.2,.9],[30.7,1.2],[31.3,.9],[31.8,1.1],
  [1.2,-1.3],[2.1,-.1],[3.2,-1.4],[3.8,.4],[4.5,-1],[5.4,.3],[6,-1],[6.4,.5],[7.2,-.6],[7.8,.6],[8.5,-.9],[9.3,.6],[10.4,-.7],[11.2,1.3],[11.5,.2],[12.3,.9],[13.2,1],[13.5,-.1],[14.1,.8],[14.7,1.6],[15.4,.7],[15.9,1.4],[16.6,.7],[17,.1],[17.6,1.2],[18.2,.6],[18.6,1.4],[19.2,.2],[19.7,1.1],[20.2,1.3],[20.7,.4],[21.2,.9],[21.6,-.1],[22.3,.3],[22.7,1.7],[23.4,1.4],[23.8,.5],[24.3,1.1],[25,1.4],[25.9,1.2],[26.4,.6],[27,.9],[27.7,1.4],[28.3,.4],[29,1.3],[30,.8],[2.3,.6],[6.5,.1],[8.9,.1],[10.8,.1],[12.2,.4],[13.7,.5],[15,.2],[16.1,-.3],[17.4,.6],[18.8,-.4],[19.9,.3],[20.6,-.3],[22.1,.6],[23,.1],[24.2,.5]];

const allRed = [].concat(borealRed, forestRed, northRed, southRed, grassRed, agriRed, allExtraRed);
const allBlue = [].concat(borealBlue, forestBlue, northBlue, southBlue, grassBlue, agriBlue, allExtraBlue);

// curvas ajustadas
const allRedFit = [[0,-1.3],[5,-.4],[10,.3],[15,.85],[20,1.2],[25,1.35],[30,1.2],[35,.8],[41,.3]];
const allBlueFit = [[0,-1.35],[5,-.45],[10,.3],[15,.85],[20,1.2],[25,1.3],[30,1.1],[35,.65],[41.5,-.1]];
const desertRedFit = [[-3.4,-3.7],[0,-3.3],[5,-3],[10,-2.7],[15,-2.45],[20,-2.2],[25,-2],[30,-1.85],[36,-1.65]];
const desertBlueFit = [[-3.4,-2.63],[0,-2.6],[5,-2.5],[10,-2.35],[15,-2.2],[20,-2],[25,-1.85],[30,-1.65],[35.5,-1.35]];
const borealRedFit = [[.5,0],[5,.45],[10,1],[15,1.5],[20,1.9],[24.4,2.2]];
const borealBlueFit = [[.2,-.05],[5,.5],[10,1.05],[15,1.55],[21.7,2.2]];
const forestRedFit = [[6,-.45],[10,.25],[15,.9],[20,1.3],[25,1.5],[30.2,1.6]];
const forestBlueFit = [[2.5,-.45],[5,-.05],[10,.55],[15,1.05],[20,1.4],[25,1.6],[30,1.65]];
const northRedFit = [[.3,-1.15],[5,-.5],[10,.2],[15,.95],[17.3,1.25]];
const northBlueFit = [[.2,-1.2],[5,-.5],[10,.15],[15,.9],[16.5,1.15]];
const southRedFit = [[6.8,-.15],[10,.05],[15,.35],[20,.55],[25,.65],[30,.7],[35,.7],[41,.6]];
const southBlueFit = [[5.5,-.7],[10,-.1],[15,.35],[20,.65],[25,.8],[30,.85],[35,.7],[41.5,.35]];
const grassRedFit = [[0,-1.6],[5,-.7],[10,.05],[15,.6],[20,1],[25,1.3],[30,1.35],[35,1.25],[37.7,1.05]];
const grassBlueFit = [[0,-1.6],[5,-.7],[10,.05],[15,.6],[20,1],[25,1.3],[30,1.35],[36,1.2]];
const agriRedFit = [[0,-3.05],[5,-1.7],[10,-.6],[15,.15],[20,.55],[25,.65],[29.7,.45]];
const agriBlueFit = [[0,-3.05],[5,-1.7],[10,-.6],[15,.15],[20,.55],[23,.65]];

const titles = ['All Non\u2212Desert Biomes', 'Desert', 'Boreal Forest', 'Temperate Forest', 'Northern Shrublands', 'Southern Shrublands', 'Grasslands', 'Temperate Agriculture'];
const redPoints = [allRed, desertRed, borealRed, forestRed, northRed, southRed, grassRed, agriRed];
const bluePoints = [allBlue, desertBlue, borealBlue, forestBlue, northBlue, southBlue, grassBlue, agriBlue];
const redFits = [allRedFit, desertRedFit, borealRedFit, forestRedFit, northRedFit, southRedFit, grassRedFit, agriRedFit];
const blueFits = [allBlueFit, desertBlueFit, borealBlueFit, forestBlueFit, northBlueFit, southBlueFit, grassBlueFit, agriBlueFit];

const rowTops = [0, 201, 403, 604]; // donde empieza cada fila
const titleSegments = [['ln R ', 12.7, 0], ['(', 17, 0], ['\u03bc mol C m', 12.7, 0], ['\u22122', 9, 5], [' s', 12.7, 0], ['\u22121', 9, 5], [')', 17, 0]];
const ringWidths = [2, 1.9, 1.7, 1.7, 1.8, 1.6, 1.6, 1.6]; // grosor de los circulos por panel

// caja negra alrededor del area
const boxPlugin = {
  id: 'box',
  afterDraw(chart) {
    const a = chart.chartArea, c = chart.ctx;
    c.save();
    c.strokeStyle = '#000';
    c.lineWidth = 1.7;
    c.strokeRect(a.left, a.top, a.right - a.left, a.bottom - a.top);
    c.restore();
  }
};

// titulo del eje y, con superindices
const yTitlePlugin = {
  id: 'yTitle',
  afterDraw(chart) {
    const a = chart.chartArea, c = chart.ctx;
    c.save();
    c.fillStyle = '#222';
    c.textBaseline = 'alphabetic';
    let total = 0;
    titleSegments.forEach(s => {
      c.font = s[1] + 'px "Liberation Sans"';
      total += c.measureText(s[0]).width;
    });
    c.translate(17, (a.top + a.bottom) / 2);
    c.rotate(-Math.PI / 2);
    let x = -total / 2;
    titleSegments.forEach(s => {
      c.font = s[1] + 'px "Liberation Sans"';
      c.fillText(s[0], x, -s[2]);
      x += c.measureText(s[0]).width;
    });
    c.restore();
  }
};

titles.forEach((title, i) => {
  const col = i % 2, row = Math.floor(i / 2);
  const canvas = document.createElement('canvas');
  const w = col === 0 ? 400 : 405;
  canvas.width = w;
  canvas.height = 199;
  canvas.style.left = (col === 0 ? 0 : 400) + 'px';
  canvas.style.top = rowTops[row] + 'px';
  document.body.appendChild(canvas);

  const yTicks = i === 1 ? desertTickValues : yTickValues;
  new Chart(canvas, {
    type: 'scatter',
    data: {
      datasets: [
        { data: blueFits[i], showLine: true, borderColor: 'rgba(5,5,100,0.95)', borderWidth: 4, pointRadius: 0, cubicInterpolationMode: 'monotone' },
        { data: redFits[i], showLine: true, borderColor: '#7a0a18', borderWidth: 4, pointRadius: 0, cubicInterpolationMode: 'monotone' },
        { data: bluePoints[i], showLine: false, borderColor: '#1a14d2', backgroundColor: 'transparent', borderWidth: ringWidths[i], pointRadius: 3 },
        { data: redPoints[i], showLine: false, borderColor: '#e8141c', backgroundColor: 'transparent', borderWidth: ringWidths[i], pointRadius: 3 }
      ]
    },
    plugins: col === 0 ? [boxPlugin, yTitlePlugin] : [boxPlugin],
    options: {
      responsive: false,
      animation: false,
      layout: { padding: { right: col === 0 ? 9 : 2 } },
      plugins: {
        legend: { display: false },
        tooltip: { enabled: false },
        title: {
          display: true,
          text: title,
          fullSize: false,
          color: '#222',
          font: { family: '"Liberation Sans"', size: 13, weight: 'normal' },
          padding: { top: 2, bottom: 4.4 }
        }
      },
      scales: {
        x: {
          type: 'linear',
          min: -4.8,
          max: 43.78,
          afterBuildTicks: s => { s.ticks = xTickValues.map(v => ({ value: v })); },
          afterFit: s => { s.height = 50; },
          grid: { drawOnChartArea: false, tickLength: 5, tickColor: '#000', tickWidth: 1.5 },
          border: { display: false },
          ticks: { color: '#222', font: { family: '"Liberation Sans"', size: 13 }, padding: 6, maxRotation: 0 },
          title: {
            display: row === 3,
            text: 'Temperature (\u00b0C)',
            color: '#222',
            font: { family: '"Liberation Sans"', size: 15 },
            padding: { top: 0, bottom: 1 }
          }
        },
        y: {
          min: i === 1 ? -5.2 : -5.25,
          max: i === 1 ? 0.7 : 3.29,
          afterBuildTicks: s => { s.ticks = yTicks.map(v => ({ value: v })); },
          afterFit: s => { s.width = col === 0 ? 47 : 59; },
          grid: { drawOnChartArea: false, tickLength: 5, tickColor: '#000', tickWidth: 1.5 },
          border: { display: false },
          ticks: {
            color: '#222',
            font: { family: '"Liberation Sans"', size: 13 },
            padding: 5,
            callback: v => String(v).replace('-', '\u2212')
          }
        }
      }
    }
  });
});
</script>
</body>
</html>
